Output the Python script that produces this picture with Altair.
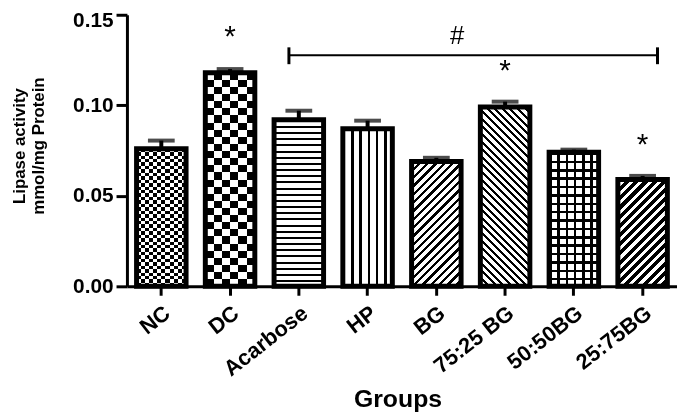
import math
import altair as alt
import pandas as pd

groups = ["NC", "DC", "Acarbose", "HP", "BG", "75:25 BG", "50:50BG", "25:75BG"]
means = [0.076, 0.118, 0.092, 0.087, 0.069, 0.099, 0.074, 0.059]
sems = [0.0045, 0.002, 0.005, 0.0045, 0.002, 0.003, 0.0015, 0.002]

star_groups = ["DC", "75:25 BG", "25:75BG"]
star_y = [0.1329, 0.1137, 0.0729]
hash_group = ["BG"]
hash_y = [0.1336]
bracket_from = "Acarbose"
bracket_to = "25:75BG"
bracket_y = 0.1276
bracket_tick = [0.1227, 0.1320]

PLOT_W = 555
PLOT_H = 274
YMAX = 0.15
PX = PLOT_H / YMAX
BAR_W = PLOT_W / len(groups) * 0.72
FONT = "Liberation Sans"

df = pd.DataFrame({"group": groups, "mean": means, "sem": sems})
df["upper"] = df["mean"] + df["sem"]


def stripe_stops(n, duty, on, off):
    stops = []
    for k in range(n):
        a = k / n
        b = (k + duty) / n
        c = (k + 1) / n
        stops += [
            {"offset": a, "color": on},
            {"offset": b, "color": on},
            {"offset": b, "color": off},
            {"offset": c, "color": off},
        ]
    return stops


def horiz(n, duty, on="black", off="white"):
    return {"gradient": "linear", "x1": 0, "y1": 0, "x2": 0, "y2": 1,
            "stops": stripe_stops(n, duty, on, off)}


def vert(n, duty, on="black", off="white"):
    return {"gradient": "linear", "x1": 0, "y1": 0, "x2": 1, "y2": 0,
            "stops": stripe_stops(n, duty, on, off)}


def diag(h, w, period, duty, direction, on="black", off="white"):
    r = h / w
    s = (1 + r) / (1 + r * r)
    n = max(1, round((w + h) / math.sqrt(2) / period))
    if direction == "/":
        g = {"x1": 0, "y1": 0, "x2": s, "y2": s * r}
    else:
        g = {"x1": 0, "y1": 1, "x2": s, "y2": 1 - s * r}
    g.update({"gradient": "linear", "stops": stripe_stops(n, duty, on, off)})
    return g


def hpx(name):
    return means[groups.index(name)] * PX


x_axis = alt.Axis(
    title="Groups", labelAngle=-38, labelFont=FONT, labelFontSize=22,
    labelFontWeight="bold", labelColor="black", labelPadding=7,
    tickSize=9, tickWidth=3, tickColor="black", domainWidth=3,
    domainColor="black", titleFont=FONT, titleFontSize=25,
    titleFontWeight="bold", titleColor="black", titleX=273, titleY=121,
    titleBaseline="alphabetic", titleAnchor="middle")
y_axis = alt.Axis(
    title=["Lipase activity", "mmol/mg Protein"], values=[0, 0.05, 0.10, 0.15],
    format=".2f", labelFont=FONT, labelFontSize=21, labelFontWeight="bold",
    labelColor="black", labelPadding=3, tickSize=11, tickWidth=3,
    labelOffset={"condition": {"test": "datum.value >= 0.149", "value": 6}, "value": 0},
    tickColor="black", domainWidth=3, domainColor="black", grid=False,
    titleFont=FONT, titleFontSize=17, titleFontWeight="bold",
    titleColor="black", titleX=-116, titleY=132, titleAngle=-90,
    titleBaseline="top", titleAlign="center", titleLineHeight=19)

xscale = alt.Scale(domain=groups, paddingInner=0.28, paddingOuter=0.14)
yscale = alt.Scale(domain=[0, YMAX], nice=False, zero=True)


def X():
    return alt.X("group:N", sort=groups, scale=xscale, axis=x_axis)


def Y(field):
    return alt.Y(f"{field}:Q", scale=yscale, axis=y_axis)


base = alt.Chart(df)
layers = []

fills = {
    "NC": horiz(round(hpx("NC") / 7), 0.5),
    "DC": horiz(round(hpx("DC") / 14.5), 0.5),
    "Acarbose": horiz(round(hpx("Acarbose") / 6.3), 0.32),
    "HP": vert(6, 0.3),
    "BG": diag(hpx("BG"), BAR_W, 6.0, 0.4, "/"),
    "75:25 BG": diag(hpx("75:25 BG"), BAR_W, 5.5, 0.4, "\\"),
    "50:50BG": horiz(round(hpx("50:50BG") / 8.5), 0.3),
    "25:75BG": diag(hpx("25:75BG"), BAR_W, 6.5, 0.55, "/"),
}
for g in groups:
    layers.append(
        base.transform_filter(alt.datum.group == g)
        .mark_bar(fill=fills[g], strokeWidth=0)
        .encode(x=X(), y=Y("mean"))
    )

# checkerboards via difference blend, grid overlay for 50:50
overlays = {
    "NC": (vert(6, 0.5, "white", "black"), "difference"),
    "DC": (vert(3, 0.5, "white", "black"), "difference"),
    "50:50BG": (vert(6, 0.3, "black", "rgba(0,0,0,0)"), None),
}
for g, (fill, blend) in overlays.items():
    kw = {"fill": fill, "strokeWidth": 0}
    if blend:
        kw["blend"] = blend
    layers.append(
        base.transform_filter(alt.datum.group == g)
        .mark_bar(**kw)
        .encode(x=X(), y=Y("mean"))
    )

outline = base.mark_bar(fill="white", fillOpacity=0, stroke="black",
                        strokeWidth=5).encode(x=X(), y=Y("mean"))
err_line = base.mark_rule(color="black", strokeWidth=4).encode(
    x=X(), y=Y("mean"), y2="upper:Q")
err_cap = base.mark_tick(color="black", size=27, thickness=4).encode(
    x=X(), y=Y("upper"))

stars = alt.Chart(pd.DataFrame({"group": star_groups, "y": star_y})).mark_text(
    text="*", font=FONT, fontSize=30, color="black", baseline="alphabetic"
).encode(x=X(), y=Y("y"))
hashes = alt.Chart(pd.DataFrame({"group": hash_group, "y": hash_y})).mark_text(
    text="#", font=FONT, fontSize=26, color="black", baseline="alphabetic", dx=21
).encode(x=X(), y=Y("y"))

br_df = pd.DataFrame({"group": [bracket_from], "g2": [bracket_to], "y": [bracket_y]})
bracket = alt.Chart(br_df).mark_rule(color="black", strokeWidth=2,
                                     xOffset=-10, x2Offset=15).encode(
    x=X(), x2="g2:N", y=Y("y"))
tick_df1 = pd.DataFrame({"group": [bracket_from], "y": [bracket_tick[0]], "y2": [bracket_tick[1]]})
tick_df2 = pd.DataFrame({"group": [bracket_to], "y": [bracket_tick[0]], "y2": [bracket_tick[1]]})
btick1 = alt.Chart(tick_df1).mark_rule(color="black", strokeWidth=3, xOffset=-10).encode(
    x=X(), y=Y("y"), y2="y2:Q")
btick2 = alt.Chart(tick_df2).mark_rule(color="black", strokeWidth=3, xOffset=15).encode(
    x=X(), y=Y("y"), y2="y2:Q")

chart = alt.layer(
    *layers, outline, err_line, err_cap, stars, hashes, bracket, btick1, btick2
).properties(
    width=PLOT_W, height=PLOT_H,
    autosize=alt.AutoSizeParams(type="none"),
    padding={"left": 120, "top": 5, "right": 0, "bottom": 127},
).configure_view(stroke=None)

chart.save("out.html", embed_options={"renderer": "svg", "actions": False})
